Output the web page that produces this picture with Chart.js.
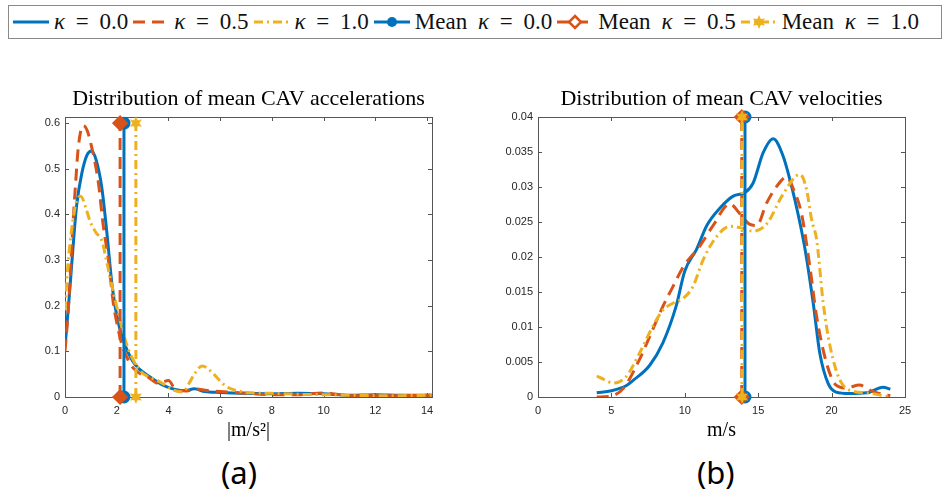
<!DOCTYPE html>
<html lang="en">
<head>
<meta charset="UTF-8">
<title>Distribution of mean CAV accelerations and velocities</title>
<script src="https://cdn.jsdelivr.net/npm/chart.js@4.4.1/dist/chart.umd.min.js"></script>
<style>
  body { margin: 0; width: 944px; height: 496px; background: #fff; position: relative; overflow: hidden; }
  #legend {
    position: absolute; left: 8px; top: 5px; width: 934px; height: 34px;
    border: 1px solid #8a8a8a; box-sizing: border-box; background: #fff;
    display: flex; align-items: center; padding-left: 3px;
    font-family: "Liberation Serif", serif; font-size: 23px; color: #111; white-space: nowrap;
  }
  #legend .item { display: flex; align-items: center; margin-right: 4px; }
  #legend .txt { word-spacing: 5px; }
  #legend svg { margin-right: 4px; }
  #legend i { font-style: italic; }
  .wrap { position: absolute; top: 80px; height: 370px; }
  .panel { position: absolute; top: 451px; font-family: "Noto Sans", sans-serif; font-size: 31px; color: #000; }
</style>
</head>
<body>
<div id="legend"></div>
<div class="wrap" style="left:0;width:460px"><canvas id="accChart" width="460" height="370"></canvas></div>
<div class="wrap" style="left:470px;width:474px"><canvas id="velChart" width="474" height="370"></canvas></div>
<div class="panel" style="left:221px">(a)</div>
<div class="panel" style="left:697px">(b)</div>

<script>
// legend / series names
const seriesNames = ['κ = 0.0', 'κ = 0.5', 'κ = 1.0']
const colors = ['#0072BD', '#D95319', '#EDB120']
const dashes = [[], [12, 7], [9, 4, 2, 4]]

// (a) density of mean accelerations, x in |m/s^2|
const accX0 = [0, 0.15, 0.3, 0.45, 0.65, 0.85, 1.03, 1.2, 1.42, 1.61, 1.83, 2.03, 2.28, 2.6, 2.9, 3.29, 3.6, 3.94, 4.3, 4.65, 5.0, 5.4, 6, 7, 8, 9, 10, 11, 12, 13, 14.19]
const accY0 = [0.11, 0.21, 0.32, 0.42, 0.49, 0.53, 0.539, 0.52, 0.46, 0.365, 0.24, 0.17, 0.12, 0.08, 0.06, 0.044, 0.032, 0.022, 0.016, 0.014, 0.018, 0.012, 0.01, 0.008, 0.007, 0.008, 0.007, 0.004, 0.005, 0.004, 0.004]
const accX1 = [0, 0.1, 0.2, 0.3, 0.4, 0.52, 0.71, 0.85, 1.03, 1.29, 1.48, 1.68, 1.87, 2.05, 2.19, 2.52, 2.8, 3.2, 3.6, 4.0, 4.3, 4.7, 5.0, 5.5, 6, 7, 8, 9, 10, 10.5, 11, 12, 13, 14.19]
const accY1 = [0.1, 0.17, 0.26, 0.37, 0.46, 0.55, 0.595, 0.585, 0.548, 0.47, 0.375, 0.3, 0.205, 0.15, 0.117, 0.073, 0.055, 0.044, 0.03, 0.036, 0.015, 0.013, 0.018, 0.014, 0.012, 0.008, 0.005, 0.005, 0.009, 0.006, 0.003, 0.003, 0.003, 0.004]
const accX2 = [0, 0.1, 0.2, 0.3, 0.45, 0.61, 0.8, 0.97, 1.2, 1.42, 1.6, 1.74, 1.95, 2.13, 2.3, 2.52, 2.9, 3.2, 3.55, 3.9, 4.2, 4.55, 4.8, 5.0, 5.3, 5.74, 6.0, 6.26, 6.8, 7, 8, 9, 10, 11, 12, 13, 14.19]
const accY2 = [0.19, 0.28, 0.34, 0.385, 0.43, 0.44, 0.415, 0.385, 0.36, 0.343, 0.3, 0.263, 0.21, 0.168, 0.13, 0.095, 0.058, 0.045, 0.037, 0.025, 0.015, 0.011, 0.03, 0.05, 0.068, 0.051, 0.035, 0.022, 0.012, 0.01, 0.008, 0.006, 0.005, 0.004, 0.003, 0.003, 0.004]
const accMeans = [2.28, 2.13, 2.74]
const accMeanTop = 0.6
const accXTicks = [0, 2, 4, 6, 8, 10, 12, 14]
const accYTicks = [0, 0.1, 0.2, 0.3, 0.4, 0.5, 0.6]

// (b) density of mean velocities, x in m/s
const velX0 = [4, 5, 6, 6.5, 7.6, 8.5, 9.4, 10, 10.8, 11.5, 12.4, 13.3, 14.1, 14.66, 15.34, 16.02, 16.7, 17.38, 17.84, 18.2, 18.75, 19.2, 19.77, 20.3, 21.2, 22.4, 23.5, 24]
const velY0 = [0.0006, 0.0009, 0.0016, 0.0024, 0.0045, 0.0077, 0.0129, 0.018, 0.0211, 0.0245, 0.027, 0.0287, 0.0292, 0.0306, 0.0349, 0.0369, 0.0344, 0.0292, 0.0249, 0.021, 0.0134, 0.0062, 0.0019, 0.0007, 0.0005, 0.0006, 0.0014, 0.0011]
const velX1 = [4, 4.9, 5.8, 6.9, 7.6, 8.5, 9.2, 9.9, 11, 11.9, 13.07, 13.75, 14.4, 14.9, 15.57, 16.3, 16.93, 17.4, 17.95, 18.52, 18.98, 19.66, 20.3, 21, 21.9, 22.8, 23.7, 24]
const velY1 = [0, 0.0001, 0.0012, 0.0053, 0.0086, 0.0129, 0.0158, 0.0186, 0.0215, 0.0244, 0.0276, 0.0262, 0.0247, 0.0245, 0.0277, 0.0302, 0.0314, 0.0297, 0.0262, 0.0186, 0.0115, 0.0048, 0.0017, 0.0013, 0.0017, 0.0008, 0.0003, 0.0002]
const velX2 = [4, 4.5, 5.1, 6, 6.9, 7.8, 8.5, 9.2, 9.9, 10.56, 11.25, 12.16, 13.07, 13.75, 14.66, 15.57, 16.7, 17.84, 18.3, 18.64, 18.98, 19.43, 19.9, 20.57, 21.5, 22.4, 23.7, 24]
const velY2 = [0.003, 0.0025, 0.002, 0.0029, 0.0062, 0.01, 0.0124, 0.0134, 0.0141, 0.0158, 0.0196, 0.0229, 0.0244, 0.0242, 0.0237, 0.0247, 0.029, 0.0318, 0.0296, 0.0253, 0.0225, 0.0134, 0.0072, 0.0024, 0.0008, 0.0006, 0.0001, 0]
const velMeans = [14.1, 13.88, 13.9]
const velMeanTop = 0.04
const velXTicks = [0, 5, 10, 15, 20, 25]
const velYTicks = [0, 0.005, 0.01, 0.015, 0.02, 0.025, 0.03, 0.035, 0.04]

const axisColor = '#555'
const tickFont = { family: '"Liberation Sans", Arial, sans-serif', size: 11 }
const serifFont = '"Liberation Serif", serif'

// six-pointed star marker (MATLAB 'h')
function hexagram(color, r) {
    const c = document.createElement('canvas')
    c.width = c.height = 2 * r + 2
    const ctx = c.getContext('2d')
    ctx.fillStyle = color
    ctx.beginPath()
    for (let k = 0; k < 12; k++) {
        const a = -Math.PI / 2 + k * Math.PI / 6
        const rr = k % 2 ? r * 0.5 : r
        ctx.lineTo(r + 1 + rr * Math.cos(a), r + 1 + rr * Math.sin(a))
    }
    ctx.closePath()
    ctx.fill()
    return c
}
const markerStyles = ['circle', 'rectRot', hexagram(colors[2], 7)]

function zip(xs, ys) {
    return xs.map((x, i) => ({ x, y: ys[i] }))
}

// box round the plot area with inward ticks on all four sides
const boxAxes = {
    id: 'boxAxes',
    beforeDatasetsDraw(chart) {
        const { ctx, chartArea: a, scales } = chart
        const len = 4
        ctx.save()
        ctx.strokeStyle = axisColor
        ctx.lineWidth = 1
        ctx.strokeRect(Math.round(a.left) + 0.5, Math.round(a.top) + 0.5, Math.round(a.right - a.left), Math.round(a.bottom - a.top))
        ctx.beginPath()
        scales.x.ticks.forEach(t => {
            const px = Math.round(scales.x.getPixelForValue(t.value)) + 0.5
            ctx.moveTo(px, a.bottom); ctx.lineTo(px, a.bottom - len)
            ctx.moveTo(px, a.top); ctx.lineTo(px, a.top + len)
        })
        scales.y.ticks.forEach(t => {
            const py = Math.round(scales.y.getPixelForValue(t.value)) + 0.5
            ctx.moveTo(a.left, py); ctx.lineTo(a.left + len, py)
            ctx.moveTo(a.right, py); ctx.lineTo(a.right - len, py)
        })
        ctx.stroke()
        ctx.restore()
    }
}

function makeChart(id, curves, means, meanTop, opts) {
    const datasets = []
    curves.forEach((c, i) => {
        datasets.push({
            label: seriesNames[i],
            data: zip(c[0], c[1]),
            borderColor: colors[i],
            borderWidth: 3,
            borderDash: dashes[i],
            pointRadius: 0,
            showLine: true,
            cubicInterpolationMode: 'monotone',
            order: 10 - i
        })
    })
    means.forEach((m, i) => {
        datasets.push({
            label: 'Mean ' + seriesNames[i],
            data: [{ x: m, y: 0 }, { x: m, y: meanTop }],
            borderColor: colors[i],
            backgroundColor: colors[i],
            borderWidth: 3,
            borderDash: dashes[i],
            pointStyle: markerStyles[i],
            pointRadius: i === 0 ? 5 : 6,
            showLine: true,
            clip: false,
            order: 5 - i
        })
    })

    const fmt = v => String(+(+v).toFixed(4))
    return new Chart(document.getElementById(id), {
        type: 'scatter',
        data: { datasets },
        plugins: [boxAxes],
        options: {
            responsive: false,
            animation: false,
            events: [],
            layout: { padding: { left: 0, right: opts.padRight, top: 0, bottom: 0 } },
            plugins: {
                legend: { display: false },
                tooltip: { enabled: false },
                title: {
                    display: true,
                    text: opts.title,
                    fullSize: false,
                    color: '#000',
                    font: { family: serifFont, size: 22, weight: 'normal' },
                    padding: { top: 6, bottom: 4.6 }
                }
            },
            scales: {
                x: {
                    type: 'linear',
                    min: opts.xMin, max: opts.xMax,
                    afterBuildTicks: s => { s.ticks = opts.xTicks.map(v => ({ value: v })) },
                    afterFit: s => { s.height = 53 },
                    grid: { display: false, drawTicks: false },
                    border: { display: false },
                    ticks: { font: tickFont, color: '#262626', padding: 7, maxRotation: 0, callback: fmt },
                    title: {
                        display: true, text: opts.xLabel, color: '#000',
                        font: { family: serifFont, size: 20 },
                        padding: { top: 0, bottom: 7 }
                    }
                },
                y: {
                    type: 'linear',
                    min: 0, max: opts.yMax,
                    afterBuildTicks: s => { s.ticks = opts.yTicks.map(v => ({ value: v })) },
                    afterFit: s => { s.width = opts.yWidth },
                    grid: { display: false, drawTicks: false },
                    border: { display: false },
                    ticks: { font: tickFont, color: '#262626', padding: 5, callback: fmt }
                }
            }
        }
    })
}

makeChart('accChart', [[accX0, accY0], [accX1, accY1], [accX2, accY2]], accMeans, accMeanTop, {
    title: 'Distribution of mean CAV accelerations', xLabel: '|m/s²|',
    xMin: 0, xMax: 14.19, yMax: 0.6135, xTicks: accXTicks, yTicks: accYTicks,
    yWidth: 65, padRight: 28
})
makeChart('velChart', [[velX0, velY0], [velX1, velY1], [velX2, velY2]], velMeans, velMeanTop, {
    title: 'Distribution of mean CAV velocities', xLabel: 'm/s',
    xMin: 0, xMax: 25, yMax: 0.04, xTicks: velXTicks, yTicks: velYTicks,
    yWidth: 68, padRight: 39
})

// legend row built from the same series
function sampleSvg(i, withMarker) {
    const dash = dashes[i].length ? ` stroke-dasharray="${dashes[i].join(' ')}"` : ''
    let s = `<svg width="38" height="20"><line x1="1" y1="10" x2="37" y2="10" stroke="${colors[i]}" stroke-width="3"${dash}/>`
    if (withMarker) {
        if (i === 0) s += `<circle cx="19" cy="10" r="5" fill="${colors[i]}"/>`
        if (i === 1) s += `<polygon points="19,4 25,10 19,16 13,10" fill="#fff" stroke="${colors[i]}" stroke-width="2.5"/>`
        if (i === 2) {
            const pts = []
            for (let k = 0; k < 12; k++) {
                const a = -Math.PI / 2 + k * Math.PI / 6, r = k % 2 ? 3.5 : 7
                pts.push((19 + r * Math.cos(a)).toFixed(1) + ',' + (10 + r * Math.sin(a)).toFixed(1))
            }
            s += `<polygon points="${pts.join(' ')}" fill="${colors[i]}"/>`
        }
    }
    return s + '</svg>'
}
const legend = document.getElementById('legend')
const kappaHtml = name => name.replace('κ', '<i>κ</i>')
let html = ''
seriesNames.forEach((n, i) => { html += `<span class="item">${sampleSvg(i, false)}<span class="txt">${kappaHtml(n)}</span></span>` })
seriesNames.forEach((n, i) => { html += `<span class="item">${sampleSvg(i, true)}<span class="txt">Mean ${kappaHtml(n)}</span></span>` })
legend.innerHTML = html
</script>
</body>
</html>
